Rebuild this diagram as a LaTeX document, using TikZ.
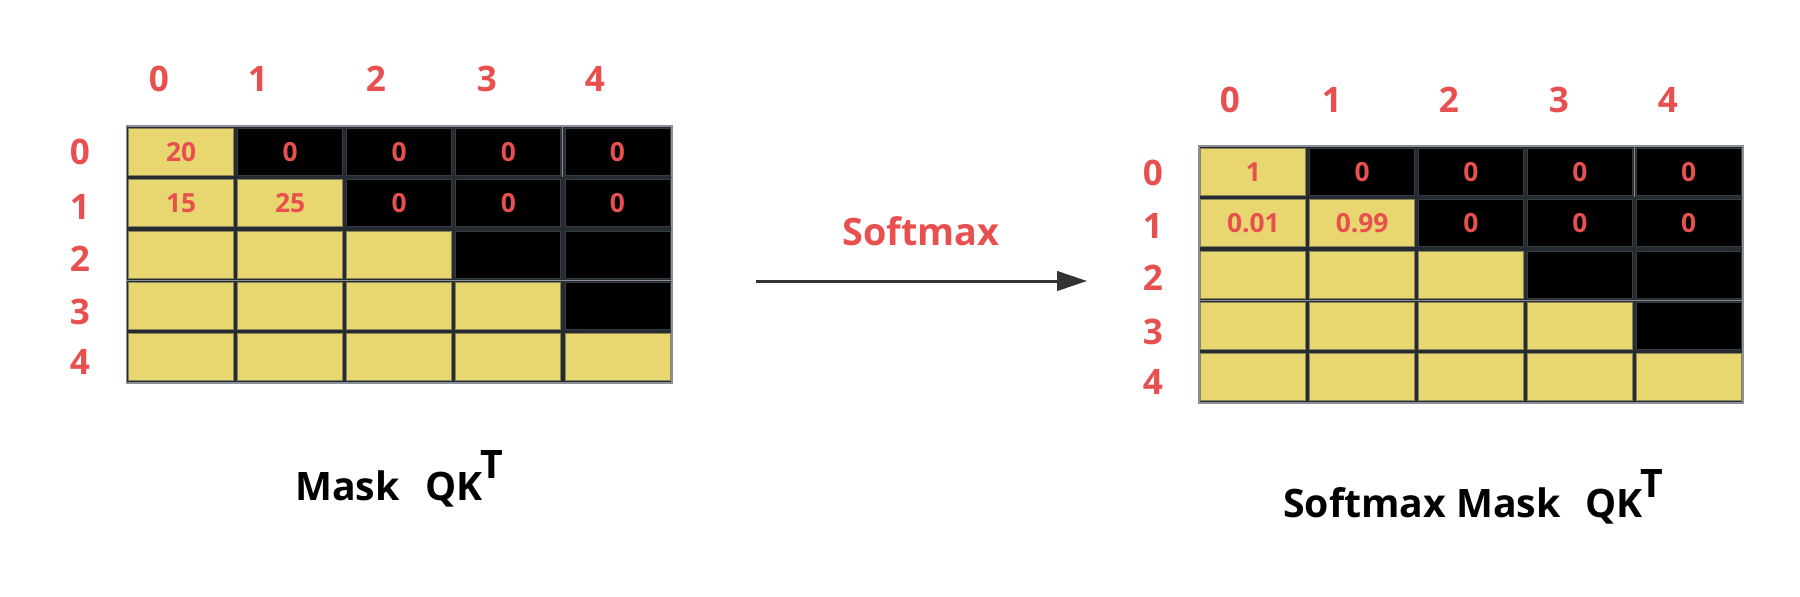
\documentclass[tikz,border=0pt]{standalone}
\usepackage{fontspec}
\setmainfont{Open Sans}
\usetikzlibrary{arrows.meta}
\definecolor{lbl}{HTML}{E8504F}
\definecolor{cellY}{HTML}{E8D670}
\definecolor{cellYB}{HTML}{8A8456}
\definecolor{cellKB}{HTML}{363C41}
\definecolor{gridD}{HTML}{252B30}
\definecolor{gridO}{HTML}{8A9096}
\definecolor{arrC}{HTML}{333333}
\tikzset{
  lab/.style={text=lbl, font=\fontsize{20}{20}\selectfont\bfseries, inner sep=0pt},
  num/.style={text=lbl, font=\fontsize{15}{15}\selectfont\bfseries, inner sep=0pt},
  ttl/.style={text=black, font=\fontsize{22.3}{22.3}\selectfont\bfseries, inner sep=0pt, anchor=base west},
  cellbase/.style={minimum width=2.1cm, minimum height=0.94cm, inner sep=0pt, line width=0.5pt},
  ycell/.style={cellbase, fill=cellY, draw=cellYB},
  kcell/.style={cellbase, fill=black, draw=cellKB},
  gridbg/.style={fill=gridD, draw=gridO, line width=0.6pt},
  sep/.style={draw=gridO, line width=0.6pt},
  arr/.style={draw=arrC, line width=1.7pt, -{Triangle[length=17pt,width=11pt]}},
}
\begin{document}
\begin{tikzpicture}[x=0.02cm, y=-0.02cm]
\useasboundingbox (0,0) rectangle (1800,596);
% ---------- left grid ----------
\filldraw[gridbg] (126.5,126) rectangle (672,383);
\draw[sep] (126.5,280.2) -- (672,280.2);
\draw[sep] (562.9,126) -- (562.9,177.4);
\foreach \r in {0,...,4}{
  \foreach \c in {0,...,4}{
    \ifnum\c>\r \def\st{kcell}\else\def\st{ycell}\fi
    \node[\st] (L-\r-\c) at ({126.5+109.1*(\c+0.5)}, {126+51.4*(\r+0.5)}) {};
  }
}
\node[num] (Ln00) at (L-0-0) {20};
\node[num] (Ln01) at (L-0-1) {0};
\node[num] (Ln02) at (L-0-2) {0};
\node[num] (Ln03) at (L-0-3) {0};
\node[num] (Ln04) at (L-0-4) {0};
\node[num] (Ln10) at (L-1-0) {15};
\node[num] (Ln11) at (L-1-1) {25};
\node[num] (Ln12) at (L-1-2) {0};
\node[num] (Ln13) at (L-1-3) {0};
\node[num] (Ln14) at (L-1-4) {0};
% column labels
\node[lab] (Lc0) at (159,79) {0};
\node[lab] (Lc1) at (258,79) {1};
\node[lab] (Lc2) at (376,79) {2};
\node[lab] (Lc3) at (487,79) {3};
\node[lab] (Lc4) at (595,79) {4};
% row labels
\node[lab] (Lr0) at (80,152) {0};
\node[lab] (Lr1) at (80,207) {1};
\node[lab] (Lr2) at (80,259) {2};
\node[lab] (Lr3) at (80,312) {3};
\node[lab] (Lr4) at (80,362) {4};
% title
\node[ttl] (Lt1) at (295,500) {Mask};
\node[ttl] (Lt2) at (425,500) {QK\kern-1pt\raisebox{0.44cm}{T}};

% ---------- right grid ----------
\filldraw[gridbg] (1199,146) rectangle (1743,403);
\draw[sep] (1199,300.2) -- (1743,300.2);
\draw[sep] (1634.2,146) -- (1634.2,197.4);
\foreach \r in {0,...,4}{
  \foreach \c in {0,...,4}{
    \ifnum\c>\r \def\st{kcell}\else\def\st{ycell}\fi
    \node[\st] (R-\r-\c) at ({1199+108.8*(\c+0.5)}, {146+51.4*(\r+0.5)}) {};
  }
}
\node[num] (Rn00) at (R-0-0) {1};
\node[num] (Rn01) at (R-0-1) {0};
\node[num] (Rn02) at (R-0-2) {0};
\node[num] (Rn03) at (R-0-3) {0};
\node[num] (Rn04) at (R-0-4) {0};
\node[num] (Rn10) at (R-1-0) {0.01};
\node[num] (Rn11) at (R-1-1) {0.99};
\node[num] (Rn12) at (R-1-2) {0};
\node[num] (Rn13) at (R-1-3) {0};
\node[num] (Rn14) at (R-1-4) {0};
% column labels
\node[lab] (Rc0) at (1230,100) {0};
\node[lab] (Rc1) at (1332,100) {1};
\node[lab] (Rc2) at (1449,100) {2};
\node[lab] (Rc3) at (1559,100) {3};
\node[lab] (Rc4) at (1668,100) {4};
% row labels
\node[lab] (Rr0) at (1153,173) {0};
\node[lab] (Rr1) at (1153,226) {1};
\node[lab] (Rr2) at (1153,278) {2};
\node[lab] (Rr3) at (1153,332) {3};
\node[lab] (Rr4) at (1153,382) {4};
% title
\node[ttl] (Rt1) at (1283,517) {Softmax Mask};
\node[ttl] (Rt2) at (1585,517) {QK\kern-1pt\raisebox{0.40cm}{T}};

% ---------- arrow ----------
\coordinate (as) at (756,281);
\coordinate (ae) at (1087,281);
\draw[arr] (as) -- (ae);
\node[text=lbl, font=\fontsize{21.5}{21.5}\selectfont\bfseries, inner sep=0pt, anchor=base] (sm) at (921,245) {Softmax};
\end{tikzpicture}
\end{document}
